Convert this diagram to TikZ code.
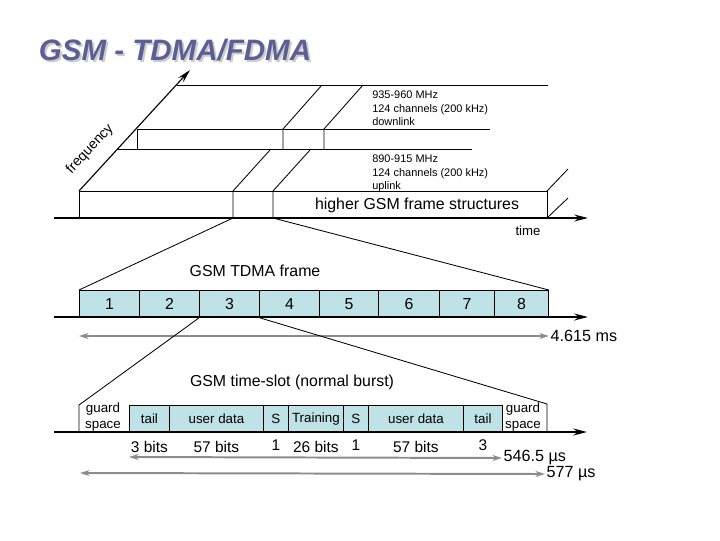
\documentclass[tikz,border=0pt]{standalone}
\usepackage{fontspec}
\setmainfont{Liberation Sans}
\usepackage{tikz}
\usetikzlibrary{positioning,arrows.meta,calc}
\definecolor{titleblue}{RGB}{92,95,150}
\definecolor{slotcyan}{RGB}{190,226,230}
\definecolor{spangray}{RGB}{140,140,140}
\tikzset{
  edge/.style={line width=0.6pt, black},
  axisline/.style={line width=2pt, black, -{Stealth[length=3.4mm, width=1.7mm]}},
  freqline/.style={line width=0.8pt, black, -{Stealth[length=3.4mm, width=1.7mm]}},
  spanline/.style={line width=1.4pt, spangray, {Stealth[length=2.4mm, width=1.5mm]}-{Stealth[length=2.4mm, width=1.5mm]}},
  slotbox/.style={draw=black, line width=0.6pt, fill=slotcyan, anchor=north west, inner sep=0pt, minimum height=0.675cm},
  framenum/.style={font=\fontsize{11.3}{13}\selectfont},
  fieldlbl/.style={font=\fontsize{9.5}{11.4}\selectfont},
  bitlbl/.style={font=\fontsize{11}{13}\selectfont, inner sep=0pt},
  bandtxt/.style={font=\fontsize{7.8}{9.6}\selectfont, align=left, anchor=north west, inner sep=0pt},
  headtxt/.style={font=\fontsize{11.3}{13}\selectfont},
  durtxt/.style={font=\fontsize{11.5}{13}\selectfont, anchor=west, inner sep=1pt},
  guardtxt/.style={font=\fontsize{9.5}{11.4}\selectfont, align=center, inner sep=0pt},
  titletxt/.style={font=\fontsize{21}{24}\selectfont\bfseries\itshape}
}

\begin{document}
\begin{tikzpicture}[x=0.025cm, y=-0.025cm]
\useasboundingbox (0,0) rectangle (720,540);
\node[titletxt, text=gray!40] (titleshadow) at (177,52) {GSM - TDMA/FDMA};
\node[titletxt, text=titleblue] (title) at (175,50) {GSM - TDMA/FDMA};
\draw[freqline] (79,191) -- (190,70);
\node[font=\fontsize{10}{12}\selectfont, rotate=47, inner sep=0pt] (freq) at (90,149) {frequency};
\draw[edge] (177,85) -- (548,85);
\draw[edge] (137,129) -- (490,129);
\draw[edge] (137,129) -- (137,149);
\draw[edge] (118,149) -- (472,149);
\draw[edge] (283,149) -- (283,129) -- (322,85);
\draw[edge] (324,149) -- (324,129) -- (363,85);
\node[bandtxt] (down) at (372,91) {935-960 MHz\\124 channels (200 kHz)\\downlink};
\node[bandtxt] (up) at (372,155) {890-915 MHz\\124 channels (200 kHz)\\uplink};
\draw[edge] (79,218) -- (79,191) -- (547,191) -- (547,218);
\draw[edge] (233,218) -- (233,191) -- (270,150);
\draw[edge] (273,218) -- (273,191) -- (310,150);
\draw[edge] (547,191) -- (568,169);
\draw[edge] (547,218) -- (568,198);
\node[headtxt] (higher) at (417,205) {higher GSM frame structures};
\draw[axisline] (54,218) -- (588,218);
\node[font=\fontsize{9.4}{11}\selectfont] (time) at (528,231) {time};
\coordinate (ua) at (233,218);
\coordinate (ub) at (273,218);
\node[headtxt] (tdma) at (255,271) {GSM TDMA frame};
\foreach \n/\l/\r in {1/79/139, 2/139/199, 3/199/259, 4/259/319, 5/319/378, 6/378/439, 7/439/494, 8/494/548}
  \node[slotbox, framenum, minimum width={(\r-\l)*0.025cm}] (f\n) at (\l,290) {\n};
\draw[edge] (ua) -- (f1.north west);
\draw[edge] (ub) -- (f8.north east);
\draw[axisline] (54,317) -- (588,317);
\coordinate (fs) at (79,336);
\node[durtxt] (tframe) at (549,336) {4.615 ms};
\draw[spanline] (fs) -- (tframe.west);
\node[headtxt] (burst) at (292,382) {GSM time-slot (normal burst)};
\foreach \n/\l/\r/\t in {1/129/169/tail, 2/169/263/user data, 3/263/288/S, 4/288/343/Training, 5/343/368/S, 6/368/463/user data, 7/463/502/tail}
  \node[slotbox, fieldlbl, minimum width={(\r-\l)*0.025cm}] (b\n) at (\l,405) {\t};
\foreach \n/\t/\d in {1/3 bits/0.21, 2/57 bits/0.21, 3/1/0.17, 4/26 bits/0.21, 5/1/0.17, 6/57 bits/0.21, 7/3/0.17}
  \node[bitlbl, below=\d cm of b\n] (w\n) {\t};
\coordinate (gl) at (79,405);
\coordinate (gr) at (547,404);
\draw[edge] (f3.south west) -- (gl) -- (79,432);
\draw[edge] (f3.south east) -- (gr) -- (547,432);
\node[guardtxt] (gleft) at (103,417) {guard\\space};
\node[guardtxt] (gright) at (523,417) {guard\\space};
\draw[axisline] (54,432) -- (587,432);
\coordinate (bs) at (129,457);
\node[durtxt] (tburst) at (502,458) {546.5 µs};
\draw[spanline] (bs) -- (tburst.west);
\coordinate (gs) at (80,473);
\node[durtxt] (tslot) at (545,474) {577 µs};
\draw[spanline] (gs) -- (tslot.west);
\end{tikzpicture}
\end{document}
